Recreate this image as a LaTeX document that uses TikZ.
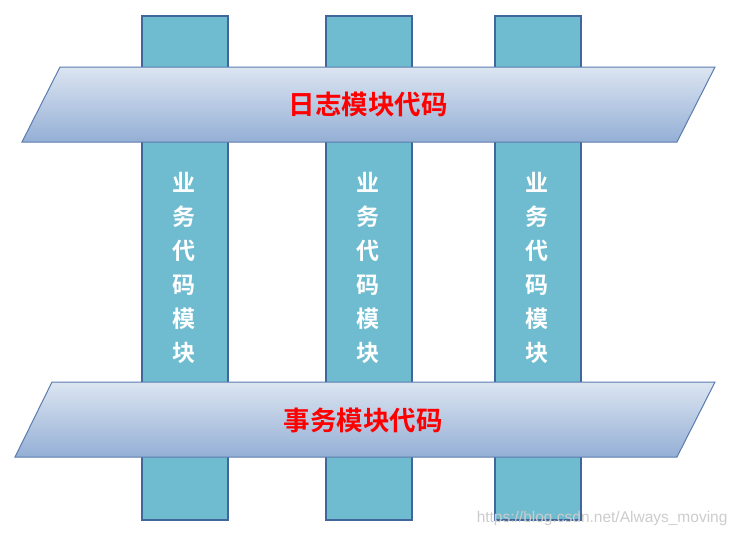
\documentclass[tikz,border=0pt]{standalone}
\usepackage{fontspec}
\newfontfamily\cjkb{Noto Sans CJK SC Bold}
\newfontfamily\wmfont{Liberation Sans}
\definecolor{colfill}{HTML}{6FBCD0}
\definecolor{colline}{HTML}{41669B}
\definecolor{bandtop}{HTML}{DCE5F1}
\definecolor{bandbot}{HTML}{94AFD5}
\definecolor{bandline}{HTML}{5A7CAE}
\begin{document}
\begin{tikzpicture}[x=1pt,y=-1pt,
  colbox/.style={draw=colline,line width=1.6pt,fill=colfill},
  band/.style={draw=bandline,line width=1pt,top color=bandtop,bottom color=bandbot},
  bandtext/.style={font=\cjkb\fontsize{26.5}{28}\selectfont,text=red},
  coltext/.style={font=\cjkb\fontsize{23}{34}\selectfont,text=white,align=center},
  wm/.style={font=\wmfont\fontsize{15.5}{17}\selectfont,text=black!20}]
\useasboundingbox (0,0) rectangle (740,536);
% columns
\foreach \n/\x in {c1/142,c2/326,c3/495}{
  \draw[colbox] (\x,16) rectangle (\x+86,520);
}
% bands
\draw[band] (60,67) -- (715,67) -- (677,142) -- (22,142) -- cycle;
\draw[band] (52,382) -- (715,382) -- (677,457) -- (15,457) -- cycle;
\node[bandtext] (log) at (368,104) {日志模块代码};
\node[bandtext] (tx) at (363,420) {事务模块代码};
% column texts
\node[coltext] (t1) at (184,268) {业\\务\\代\\码\\模\\块};
\node[coltext] (t2) at (368,268) {业\\务\\代\\码\\模\\块};
\node[coltext] (t3) at (537,268) {业\\务\\代\\码\\模\\块};
\node[wm,anchor=east] (w) at (731,518) {https://blog.csdn.net/Always\_moving};
\end{tikzpicture}
\end{document}
